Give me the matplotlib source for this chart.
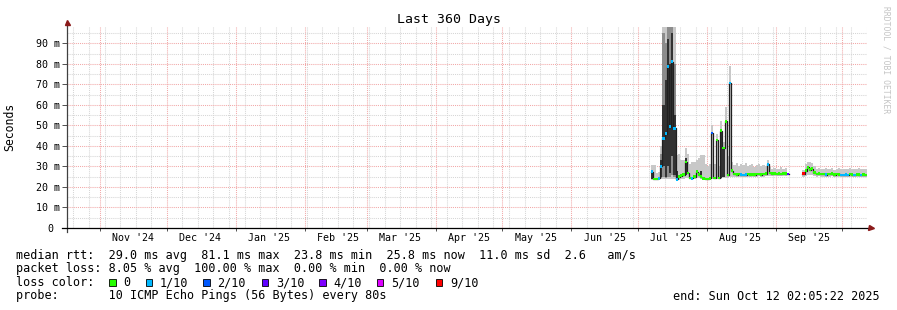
import numpy as np
import matplotlib
matplotlib.use("Agg")
import matplotlib.pyplot as plt
import matplotlib.dates as mdates
from matplotlib.patches import Rectangle
from matplotlib.ticker import NullFormatter, FixedLocator
from matplotlib.transforms import blended_transform_factory
from datetime import datetime, timedelta

N = np.nan

# ---------------- data ----------------
view_start = datetime(2024, 10, 17, 2, 5, 22)
view_end = datetime(2025, 10, 12, 2, 5, 22)
first_day = datetime(2025, 7, 7)

# daily median RTT (ms), Jul 7 .. Oct 11 2025
median_ms = [
    27.5, 23.8, 24.0, 24.2, 30.0, 43.7, 46.0, 78.7, 49.4, 81.1,
    48.6, 23.7, 25.0, 25.5, 26.0, 32.3, 26.7, 24.5, 24.2, 25.0,
    27.5, 26.0, 25.0, 24.2, 24.0, 24.0, 24.2, 46.2, 24.5, 43.0,
    24.5, 47.5, 39.0, 52.0, 25.9, 70.6, 28.0, 26.3, 26.0, 26.2,
    26.0, 25.8, 26.0, 26.3, 26.0, 26.1, 26.0, 26.2, 26.4, 26.0,
    26.2, 26.5, 31.0, 26.8, 26.5, 26.6, 26.3, 26.5, 26.4, 26.6,
    26.5, 26.3, N, N, N, N, N, N, 26.5, 28.0,
    29.5, 28.5, 29.0, 27.0, 26.3, 26.5, 26.2, 26.4, 26.0, 26.3,
    26.2, 26.5, 26.0, 26.3, 26.1, 25.8, 25.9, 26.0, 25.8, 26.2,
    26.0, 25.9, 26.1, 26.0, 25.8, 26.0, 25.8,
]

# loss class per day (index into loss_labels / loss_colors)
loss_level = [
    1, 0, 0, 1, 1, 1, 1, 1, 1, 1,
    1, 1, 0, 0, 0, 0, 0, 0, 1, 0,
    0, 0, 0, 0, 0, 0, 0, 2, 0, 0,
    0, 0, 0, 0, 0, 1, 0, 0, 0, 0,
    1, 1, 1, 0, 0, 0, 0, 0, 0, 0,
    0, 0, 1, 0, 0, 0, 0, 0, 0, 0,
    0, 3, 0, 0, 0, 0, 0, 0, 6, 0,
    0, 0, 0, 0, 0, 0, 0, 0, 1, 0,
    0, 0, 0, 0, 0, 1, 1, 1, 1, 0,
    0, 1, 0, 0, 1, 0, 0,
]

# outer smoke (fastest / slowest ping)
smoke_lo = [
    23.3, 23.3, 23.5, 23.5, 24.0, 24.0, 24.0, 24.0, 24.0, 24.0,
    24.0, 23.2, 23.5, 23.8, 24.0, 24.5, 24.5, 23.8, 23.6, 24.0,
    24.2, 24.2, 23.8, 23.6, 23.5, 23.5, 23.6, 24.0, 23.8, 24.0,
    23.8, 24.0, 24.2, 24.2, 24.5, 24.8, 25.0, 25.0, 24.8, 25.0,
    25.0, 24.8, 25.0, 25.0, 24.9, 25.0, 25.0, 25.1, 25.2, 25.0,
    25.0, 25.2, 25.5, 25.4, 25.3, 25.3, 25.2, 25.3, 25.2, 25.4,
    25.3, 25.0, N, N, N, N, N, N, 25.0, 25.5,
    26.0, 25.8, 26.0, 25.5, 25.0, 25.2, 25.0, 25.1, 24.9, 25.0,
    25.0, 25.2, 24.9, 25.0, 25.0, 24.8, 24.8, 24.9, 24.8, 25.0,
    24.9, 24.8, 25.0, 24.9, 24.8, 24.9, 24.8,
]
smoke_hi = [
    30.5, 30.5, 27.0, 27.5, 40.0, 110, 110, 110, 110, 110,
    110, 35.6, 36.0, 33.0, 33.0, 39.0, 36.0, 31.0, 32.0, 32.0,
    33.0, 34.0, 35.6, 35.6, 31.0, 30.0, 31.0, 50.0, 31.0, 46.0,
    30.0, 52.0, 42.0, 59.0, 35.0, 79.0, 32.0, 30.5, 31.5, 30.0,
    31.0, 30.5, 31.5, 30.0, 30.5, 31.0, 29.5, 30.5, 31.0, 30.0,
    30.5, 30.0, 33.2, 29.5, 29.0, 29.3, 28.8, 29.0, 29.5, 29.0,
    29.2, 28.8, N, N, N, N, N, N, 28.5, 31.0,
    32.4, 32.0, 31.5, 30.0, 29.0, 29.3, 28.8, 29.0, 29.3, 28.8,
    29.0, 29.2, 28.5, 29.0, 29.3, 28.8, 29.0, 28.6, 29.0, 29.2,
    28.8, 29.0, 28.7, 29.2, 28.8, 29.0, 28.6,
]

# middle smoke layer
mid_lo = [
    N, N, N, N, 24.5, 25.0, 24.5, 25.0, 25.0, 26.0,
    25.0, 23.7, N, N, N, 25.0, N, N, N, N,
    N, N, N, N, N, N, N, 24.5, N, N,
    N, 24.5, N, 25.0, N, 25.5, N, N, N, N,
] + [N] * 57
mid_hi = [
    N, N, N, N, 36.0, 95.0, 90.0, 110, 110, 110,
    80.0, 31.0, N, N, N, 36.0, N, N, N, N,
    N, N, N, N, N, N, N, 48.0, N, N,
    N, 50.0, N, 56.0, N, 75.0, N, N, N, N,
] + [N] * 57

# inner (darkest) smoke layer
core_lo = [
    23.7, 23.7, N, N, 25.0, 30.0, 25.0, 30.0, 27.0, 35.0,
    26.0, 23.7, 24.0, N, N, 26.0, 25.0, N, 24.0, N,
    25.0, N, 24.5, 24.0, N, 24.0, N, 24.5, N, 24.5,
    N, 24.5, 25.0, 25.0, N, 26.0, N, N, N, N,
    N, N, N, N, N, N, N, N, N, N,
    N, N, 26.5, N, N, N, N, N, N, N,
    N, N, N, N, N, N, N, N, N, 26.0,
    N, N, 26.5, N, N, N, N, N, N, N,
    N, N, N, N, N, N, N, N, N, N,
    N, N, N, N, N, N, N,
]
core_hi = [
    28.0, 28.5, N, N, 33.0, 60.0, 72.0, 92.0, 80.0, 95.0,
    55.0, 28.0, 28.3, N, N, 34.0, 30.0, N, 28.0, N,
    31.5, N, 28.0, 31.5, N, 28.0, N, 46.2, N, 43.0,
    N, 47.5, 39.0, 52.0, N, 70.6, N, N, N, N,
    N, N, N, N, N, N, N, N, N, N,
    N, N, 31.0, N, N, N, N, N, N, N,
    N, N, N, N, N, N, N, N, N, 30.0,
    N, N, 29.0, N, N, N, N, N, N, N,
    N, N, N, N, N, N, N, N, N, N,
    N, N, N, N, N, N, N,
]

loss_labels = ["0", "1/10", "2/10", "3/10", "4/10", "5/10", "9/10"]
loss_colors = ["#26ff00", "#00b8ff", "#0059ff", "#5e00ff", "#7e00ff", "#dd00ff", "#ff0000"]

month_labels = ["Nov '24", "Dec '24", "Jan '25", "Feb '25", "Mar '25", "Apr '25",
                "May '25", "Jun '25", "Jul '25", "Aug '25", "Sep '25"]
y_tick_values = [0, 10, 20, 30, 40, 50, 60, 70, 80, 90]
y_tick_labels = ["0 ", "10 m", "20 m", "30 m", "40 m", "50 m", "60 m", "70 m", "80 m", "90 m"]

title = "Last 360 Days"
ylabel = "Seconds"
stat_rtt = "median rtt:  29.0 ms avg  81.1 ms max  23.8 ms min  25.8 ms now  11.0 ms sd  2.6   am/s"
stat_loss = "packet loss: 8.05 % avg  100.00 % max  0.00 % min  0.00 % now"
probe_line = "probe:       10 ICMP Echo Pings (56 Bytes) every 80s"
end_line = "end: Sun Oct 12 02:05:22 2025"
watermark = "RRDTOOL / TOBI OETIKER"

# ---------------- drawing ----------------
MONO = "DejaVu Sans Mono"
plt.rcParams["font.family"] = [MONO, "DejaVu Sans"]

W, H = 897, 310
fig = plt.figure(figsize=(W / 100, H / 100), dpi=100)
fig.patch.set_facecolor("white")
ax_l, ax_t, ax_w, ax_h = 67, 27, 800, 201
ax = fig.add_axes([ax_l / W, 1 - (ax_t + ax_h) / H, ax_w / W, ax_h / H])
ax.set_facecolor("white")

n = len(median_ms)
edges = mdates.date2num([first_day + timedelta(days=k) for k in range(n + 1)])


def ext(a):
    a = np.asarray(a, dtype=float)
    return np.append(a, a[-1])


ax.fill_between(edges, ext(smoke_lo), ext(smoke_hi), step="post", color="#c8c8c8", lw=0, zorder=2)
ax.fill_between(edges, ext(mid_lo), ext(mid_hi), step="post", color="#8c8c8c", lw=0, zorder=3)
ax.fill_between(edges, ext(core_lo), ext(core_hi), step="post", color="#323232", lw=0, zorder=4)
ax.step(edges, ext(median_ms), where="post", color="#202020", lw=0.9, zorder=5)

med = np.asarray(median_ms, dtype=float)
valid = ~np.isnan(med)
bar_half = 0.6
ax.bar(edges[:-1][valid], 2 * bar_half, bottom=med[valid] - bar_half, width=np.diff(edges)[valid],
       align="edge", color=[loss_colors[l] for l, v in zip(loss_level, valid) if v], lw=0, zorder=6)

ax.set_xlim(mdates.date2num(view_start), mdates.date2num(view_end))
ax.set_ylim(0, 98)

# grid
ax.xaxis.set_major_locator(mdates.MonthLocator())
ax.xaxis.set_minor_locator(mdates.WeekdayLocator(byweekday=mdates.SU))
ax.xaxis.set_major_formatter(NullFormatter())
ax.yaxis.set_major_locator(FixedLocator(y_tick_values))
ax.yaxis.set_minor_locator(FixedLocator([v + 5 for v in y_tick_values]))
ax.set_yticklabels(y_tick_labels, fontfamily=MONO, fontsize=7.2)

dot = (0, (1, 1))
ax.grid(which="minor", axis="both", color="#d6d6d6", lw=0.75, ls=dot)
ax.grid(which="major", axis="both", color="#f2a8a8", lw=0.75, ls=dot)
ax.set_axisbelow(True)
ax.tick_params(axis="y", which="major", length=3.6, width=0.7, color="#505050", pad=1.6)
ax.tick_params(axis="y", which="minor", length=0)
ax.tick_params(axis="x", which="major", length=2.2, width=0.7, color="#505050")
ax.tick_params(axis="x", which="minor", length=0)
for s in ax.spines.values():
    s.set_visible(False)

# axis lines with arrows
ax.plot([0, 0], [-4 / ax_h, 1 + 5 / ax_h], transform=ax.transAxes, color="#404040", lw=0.9,
        clip_on=False, zorder=7)
ax.plot([0], [1 + 5 / ax_h], transform=ax.transAxes, marker="^", ms=3.6, color="#8b1a1a",
        mec="#8b1a1a", clip_on=False, zorder=8)
ax.plot([-5 / ax_w, 1 + 2 / ax_w], [0, 0], transform=ax.transAxes, color="black", lw=0.9,
        clip_on=False, zorder=7)
ax.plot([1 + 4 / ax_w], [0], transform=ax.transAxes, marker=">", ms=3.6, color="#8b1a1a",
        mec="#8b1a1a", clip_on=False, zorder=8)

# month labels (centered mid month)
trans = blended_transform_factory(ax.transData, ax.transAxes)
for i, lab in enumerate(month_labels):
    yr = 2024 + (10 + i) // 12
    mo = (10 + i) % 12 + 1
    ax.text(mdates.date2num(datetime(yr, mo, 16)), -10 / ax_h, lab, transform=trans,
            ha="center", va="center", fontsize=7.2, fontfamily=MONO)

# texts
fig.text(0.5, 1 - 19 / H, title, ha="center", va="center", fontsize=9.5, fontfamily=MONO)
fig.text(10 / W, 1 - 127 / H, ylabel, rotation=90, ha="center", va="center", fontsize=8.3,
         fontfamily=MONO)
fig.text(886 / W, 1 - 60 / H, watermark, rotation=270, ha="center", va="center", fontsize=5.8,
         color="#c4c4c4", fontfamily=MONO)

lx = 16 / W
fs = 8.5
fig.text(lx, 1 - 255 / H, stat_rtt, ha="left", va="center", fontsize=fs, fontfamily=MONO)
fig.text(lx, 1 - 268.5 / H, stat_loss, ha="left", va="center", fontsize=fs, fontfamily=MONO)
fig.text(lx, 1 - 282.5 / H, "loss color:", ha="left", va="center", fontsize=fs, fontfamily=MONO)
fig.text(lx, 1 - 296 / H, probe_line, ha="left", va="center", fontsize=fs, fontfamily=MONO)
fig.text(880 / W, 1 - 296 / H, end_line, ha="right", va="center", fontsize=fs, fontfamily=MONO)

box_x = [109, 145.7, 203.3, 261.7, 319.3, 376.7, 435.7]
box_s = 6.7
for bx, lab, col in zip(box_x, loss_labels, loss_colors):
    fig.add_artist(Rectangle((bx / W, 1 - (282.7 + box_s / 2) / H), box_s / W, box_s / H,
                             transform=fig.transFigure, facecolor=col, edgecolor="black", lw=0.6))
    fig.text((bx + 14.3) / W, 1 - 282.5 / H, lab, ha="left", va="center", fontsize=fs, fontfamily=MONO)

fig.savefig("out.png", dpi=100, facecolor="white")
